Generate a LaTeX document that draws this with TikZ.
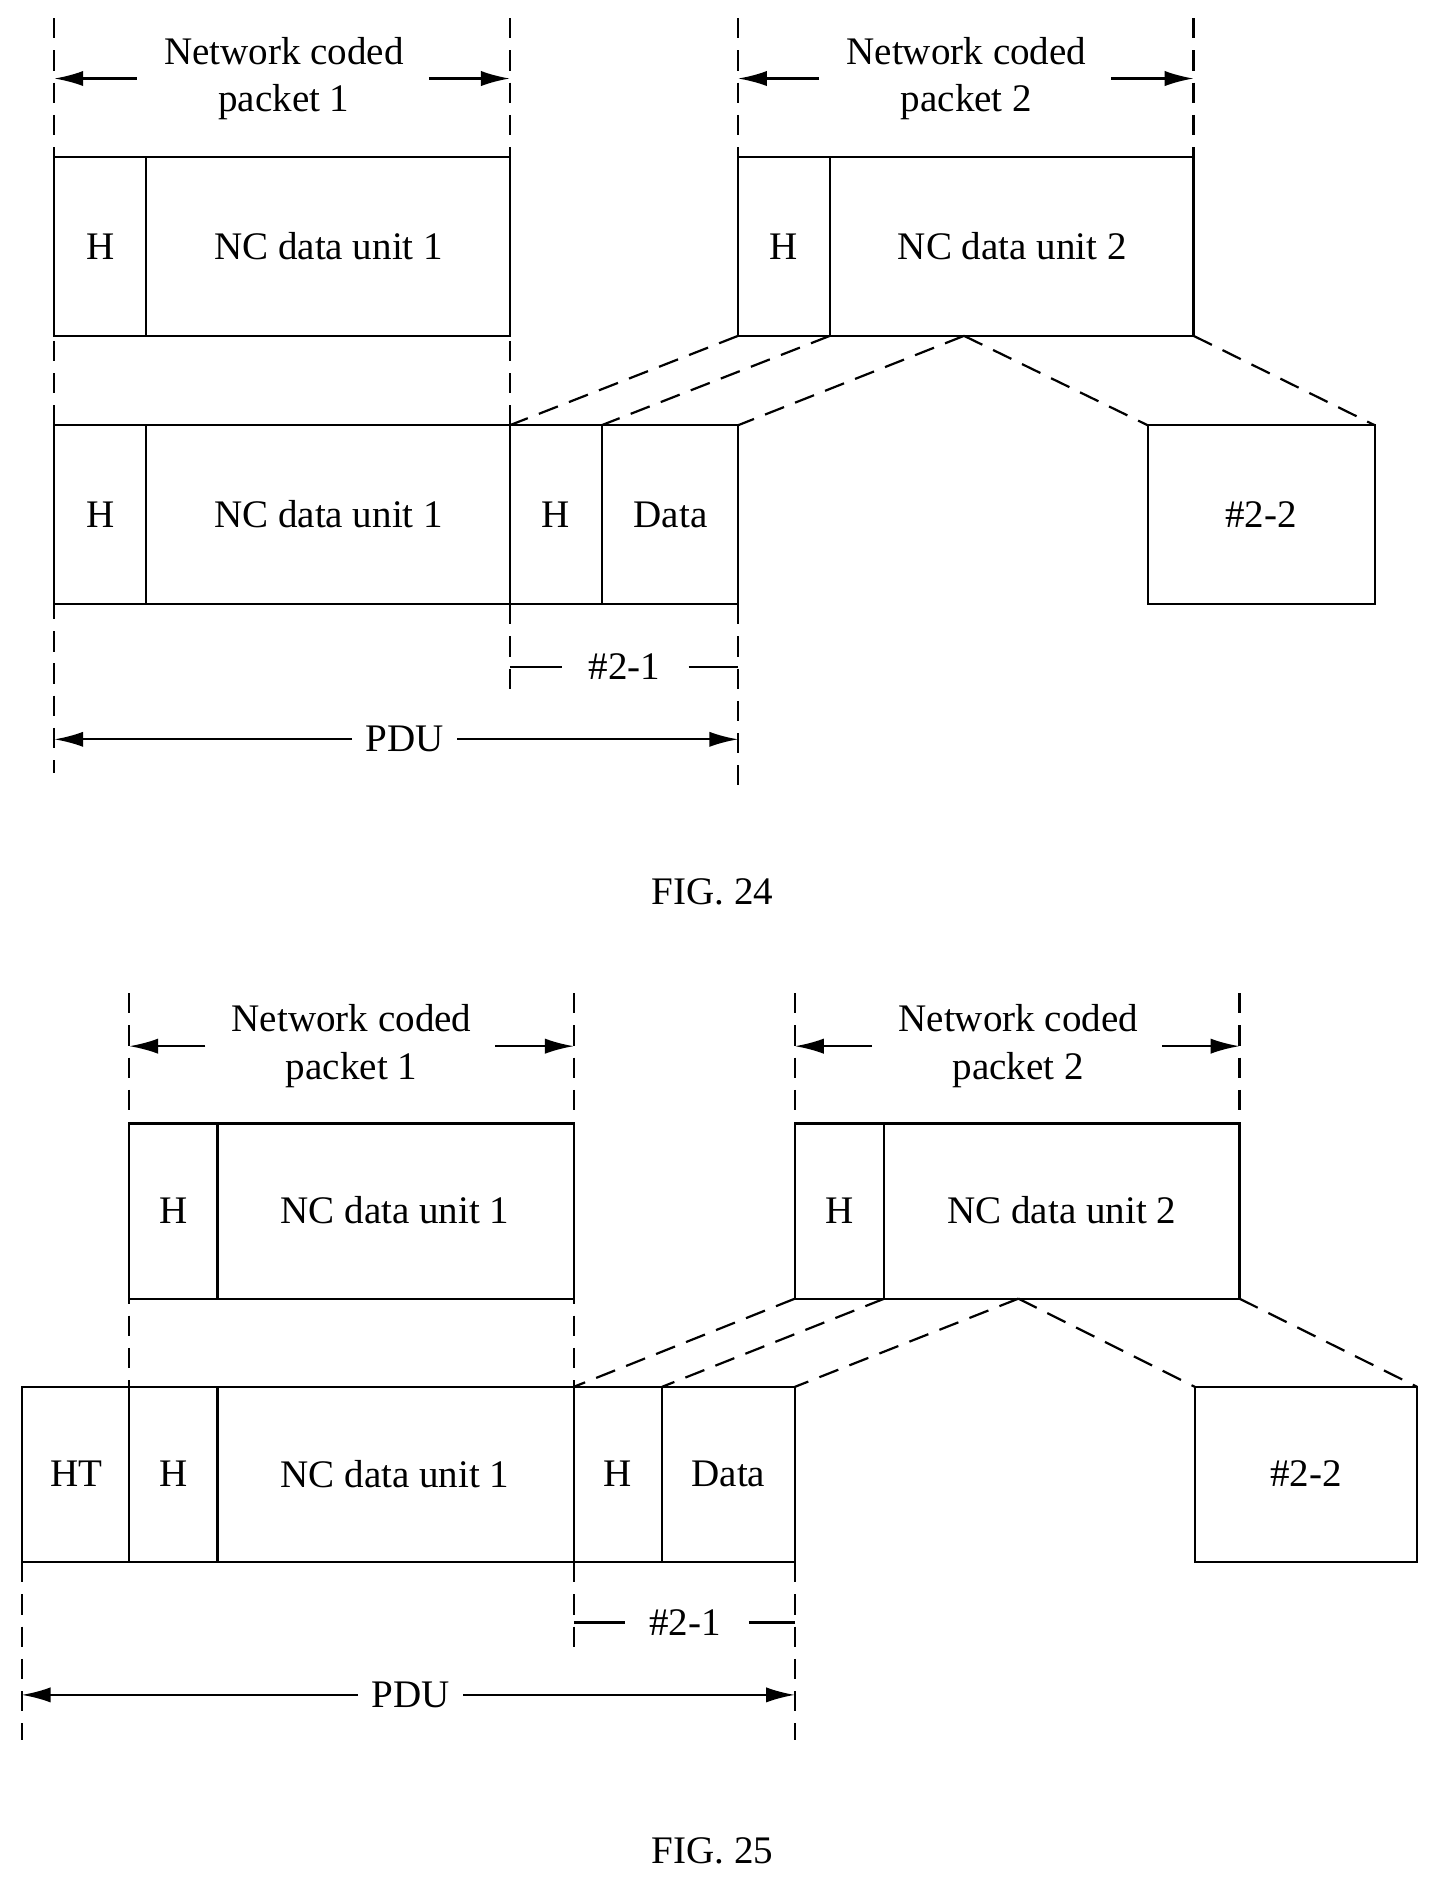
\documentclass[tikz,border=0pt]{standalone}
\usepackage{fontspec}
\setmainfont{Liberation Serif}
\usetikzlibrary{arrows.meta, positioning}

\begin{document}
\begin{tikzpicture}[x=0.05cm, y=-0.05cm, line width=2.6pt,
    every node/.style={font=\fontsize{46}{56}\selectfont},
    guide/.style={dash pattern=on 24pt off 14pt},
    span/.style={-{Latex[length=34pt,width=18pt]}},
    lbl/.style={align=center, inner sep=2pt}]
    \useasboundingbox (0,0) rectangle (1190,1567);

    % FIG. 24
    \draw (45,130) rectangle (422,278) (121,130) -- (121,278);
    \draw (611,130) rectangle (988,278) (687,130) -- (687,278);
    \draw (45,352) rectangle (611,500);
    \draw (121,352) -- (121,500) (422,352) -- (422,500) (498,352) -- (498,500);
    \draw (950,352) rectangle (1138,500);
    \node at (83,204) {H};
    \node at (272,204) {NC data unit 1};
    \node at (649,204) {H};
    \node at (838,204) {NC data unit 2};
    \node at (83,426) {H};
    \node at (272,426) {NC data unit 1};
    \node at (460,426) {H};
    \node at (555,426) {Data};
    \node at (1044,426) {\#2-2};
    \draw[guide] (45,15) -- (45,640) (422,15) -- (422,352) (422,500) -- (422,575);
    \draw[guide] (611,15) -- (611,130) (611,500) -- (611,650) (988,15) -- (988,130);
    \draw[guide] (611,278) -- (422,352) (687,278) -- (498,352) (798,278) -- (611,352);
    \draw[guide] (798,278) -- (950,352) (988,278) -- (1138,352);
    \node[lbl] (np1) at (235,65) {Network coded\\packet 1};
    \draw[span] (113,65) -- (45,65);
    \draw[span] (355,65) -- (422,65);
    \node[lbl] (np2) at (800,65) {Network coded\\packet 2};
    \draw[span] (678,65) -- (611,65);
    \draw[span] (920,65) -- (988,65);
    \node (p21) at (517,552) {\#2-1};
    \draw (422,552) -- (465,552) (570,552) -- (611,552);
    \node (pdu) at (335,612) {PDU};
    \draw[span] (pdu.west) ++(-8,0) -- (45,612);
    \draw[span] (pdu.east) ++(8,0) -- (611,612);
    \node (f24) at (590,738) {FIG. 24};

    % FIG. 25
    \draw (107,930) rectangle (475,1075) (180,930) -- (180,1075);
    \draw (658,930) rectangle (1026,1075) (732,930) -- (732,1075);
    \draw (18,1148) rectangle (658,1293);
    \draw (107,1148) -- (107,1293) (180,1148) -- (180,1293) (475,1148) -- (475,1293) (548,1148) -- (548,1293);
    \draw (989,1148) rectangle (1173,1293);
    \node at (144,1002) {H};
    \node at (327,1002) {NC data unit 1};
    \node at (695,1002) {H};
    \node at (879,1002) {NC data unit 2};
    \node at (63,1220) {HT};
    \node at (144,1220) {H};
    \node at (327,1220) {NC data unit 1};
    \node at (511,1220) {H};
    \node at (603,1220) {Data};
    \node at (1081,1220) {\#2-2};
    \draw[guide] (107,822) -- (107,1148) (475,822) -- (475,1148) (475,1293) -- (475,1370);
    \draw[guide] (658,822) -- (658,930) (658,1293) -- (658,1440) (1026,822) -- (1026,930) (18,1293) -- (18,1440);
    \draw[guide] (658,1075) -- (475,1148) (732,1075) -- (548,1148) (843,1075) -- (658,1148);
    \draw[guide] (843,1075) -- (989,1148) (1026,1075) -- (1173,1148);
    \node[lbl] (mp1) at (291,866) {Network coded\\packet 1};
    \draw[span] (170,866) -- (107,866);
    \draw[span] (410,866) -- (475,866);
    \node[lbl] (mp2) at (843,866) {Network coded\\packet 2};
    \draw[span] (722,866) -- (658,866);
    \draw[span] (962,866) -- (1026,866);
    \node (q21) at (567,1343) {\#2-1};
    \draw (475,1343) -- (517,1343) (620,1343) -- (658,1343);
    \node (qdu) at (340,1403) {PDU};
    \draw[span] (qdu.west) ++(-8,0) -- (18,1403);
    \draw[span] (qdu.east) ++(8,0) -- (658,1403);
    \node (f25) at (590,1532) {FIG. 25};
\end{tikzpicture}
\end{document}
